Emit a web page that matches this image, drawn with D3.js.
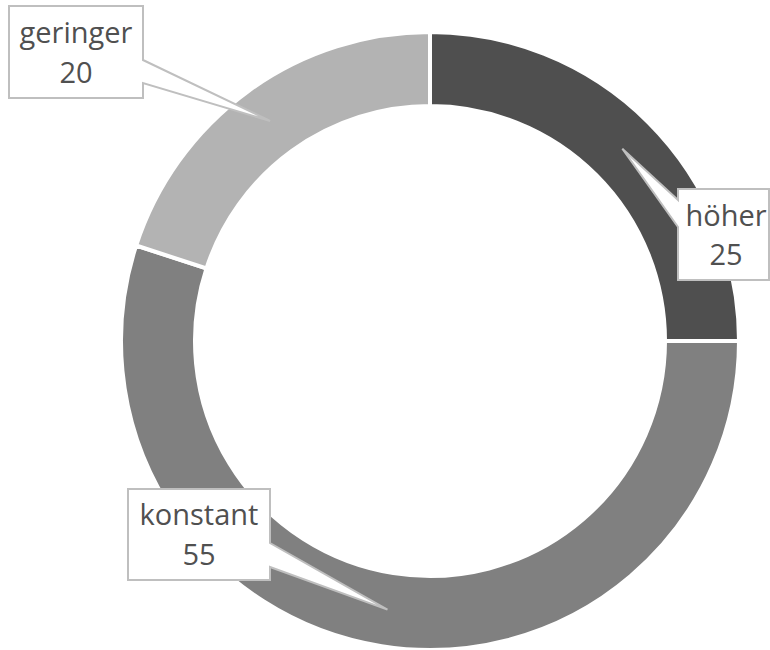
<!DOCTYPE html>
<html>
<head>
<meta charset="utf-8">
<script src="https://cdn.jsdelivr.net/npm/d3@7"></script>
<style>
  html, body { margin: 0; padding: 0; background: #fff; }
  svg { display: block; }
</style>
</head>
<body>
<svg id="chart" width="770" height="650"></svg>
<script>
// Data
const categories = ["höher", "konstant", "geringer"];
const values = [25, 55, 20];
const colors = ["#4f4f4f", "#808080", "#b3b3b3"];

// Layout (callout boxes: x0,y0,x1,y1, side of wedge, wedge base y range, text center x, baselines)
const callouts = [
  { x0: 678, y0: 189, x1: 769, y1: 280, side: "left",  w0: 200, w1: 227, tx: 726, b1: 226, b2: 265 },
  { x0: 128, y0: 489, x1: 270, y1: 580, side: "right", w0: 543, w1: 567, tx: 199, b1: 525, b2: 565 },
  { x0: 9,   y0: 6,   x1: 143, y1: 98,  side: "right", w0: 60,  w1: 83,  tx: 76,  b1: 43,  b2: 83 }
];

const svg = d3.select("#chart");
const cx = 430, cy = 341, rOuter = 309, rInner = 235;

const pie = d3.pie().sort(null).value(d => d.value);
const data = categories.map((c, i) => ({ name: c, value: values[i], color: colors[i] }));
const arcs = pie(data);
const arc = d3.arc().innerRadius(rInner).outerRadius(rOuter);

const g = svg.append("g").attr("transform", `translate(${cx},${cy})`);
g.selectAll("path")
  .data(arcs)
  .join("path")
  .attr("d", arc)
  .attr("fill", d => d.data.color)
  .attr("stroke", "#fff")
  .attr("stroke-width", 4);

// Callouts
arcs.forEach((a, i) => {
  const c = callouts[i];
  const [mx, my] = arc.centroid(a);
  const tx = cx + mx, ty = cy + my;
  let p;
  if (c.side === "left") {
    p = `M${c.x0},${c.y0}H${c.x1}V${c.y1}H${c.x0}V${c.w1}L${tx},${ty}L${c.x0},${c.w0}Z`;
  } else {
    p = `M${c.x0},${c.y0}H${c.x1}V${c.w0}L${tx},${ty}L${c.x1},${c.w1}V${c.y1}H${c.x0}Z`;
  }
  svg.append("path")
    .attr("d", p)
    .attr("fill", "#fff")
    .attr("stroke", "#bfbfbf")
    .attr("stroke-width", 2)
    .attr("stroke-linejoin", "miter");
  const t = svg.append("text")
    .attr("text-anchor", "middle")
    .attr("font-family", "'Open Sans', sans-serif")
    .attr("font-size", 29)
    .attr("fill", "#505050");
  t.append("tspan").attr("x", c.tx).attr("y", c.b1).text(a.data.name);
  t.append("tspan").attr("x", c.tx).attr("y", c.b2).text(a.data.value);
});
</script>
</body>
</html>
